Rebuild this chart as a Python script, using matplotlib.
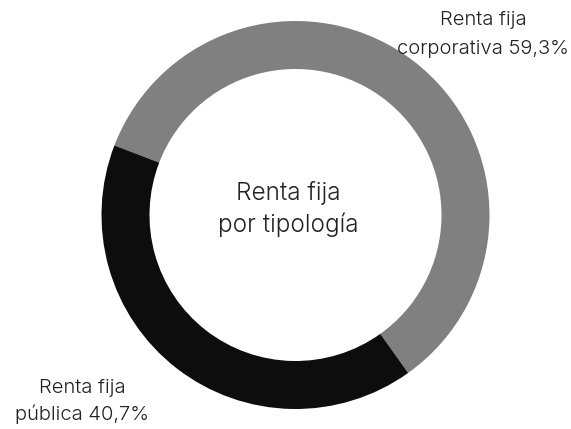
import matplotlib
matplotlib.use("Agg")
import matplotlib.pyplot as plt

# Data
labels = ["Renta fija\ncorporativa 59,3%", "Renta fija\npública 40,7%"]
shares = [59.3, 40.7]
colors = ["#808080", "#0d0d0d"]
center_title = ["Renta fija", "por tipología"]

plt.rcParams['font.family'] = ['Inter', 'DejaVu Sans']
plt.rcParams['font.weight'] = 300
txt_color = "#222222"

W, H = 571, 429
fig = plt.figure(figsize=(W / 100, H / 100), dpi=100)
ax = fig.add_axes([0, 0, 1, 1])

# Donut ring
ax.pie(shares, colors=colors, startangle=-54.5, counterclock=True,
       center=(295.5, H - 215), radius=194,
       wedgeprops=dict(width=48, linewidth=0), frame=True)
ax.set_xlim(0, W)
ax.set_ylim(0, H)
ax.set_aspect('equal')
ax.axis('off')

# Centre text
ax.text(288, H - 193, center_title[0], ha='center', va='center', fontsize=17.5, color=txt_color)
ax.text(288, H - 225, center_title[1], ha='center', va='center', fontsize=17.5, color=txt_color)

# Segment labels
top = labels[0].split("\n")
ax.text(483, H - 20, top[0], ha='center', va='center', fontsize=14.5, color=txt_color)
ax.text(483, H - 49, top[1], ha='center', va='center', fontsize=14.5, color=txt_color)
bot = labels[1].split("\n")
ax.text(82, H - 388, bot[0], ha='center', va='center', fontsize=14.5, color=txt_color)
ax.text(82, H - 414, bot[1], ha='center', va='center', fontsize=14.5, color=txt_color)

fig.savefig("out.png", dpi=100)
